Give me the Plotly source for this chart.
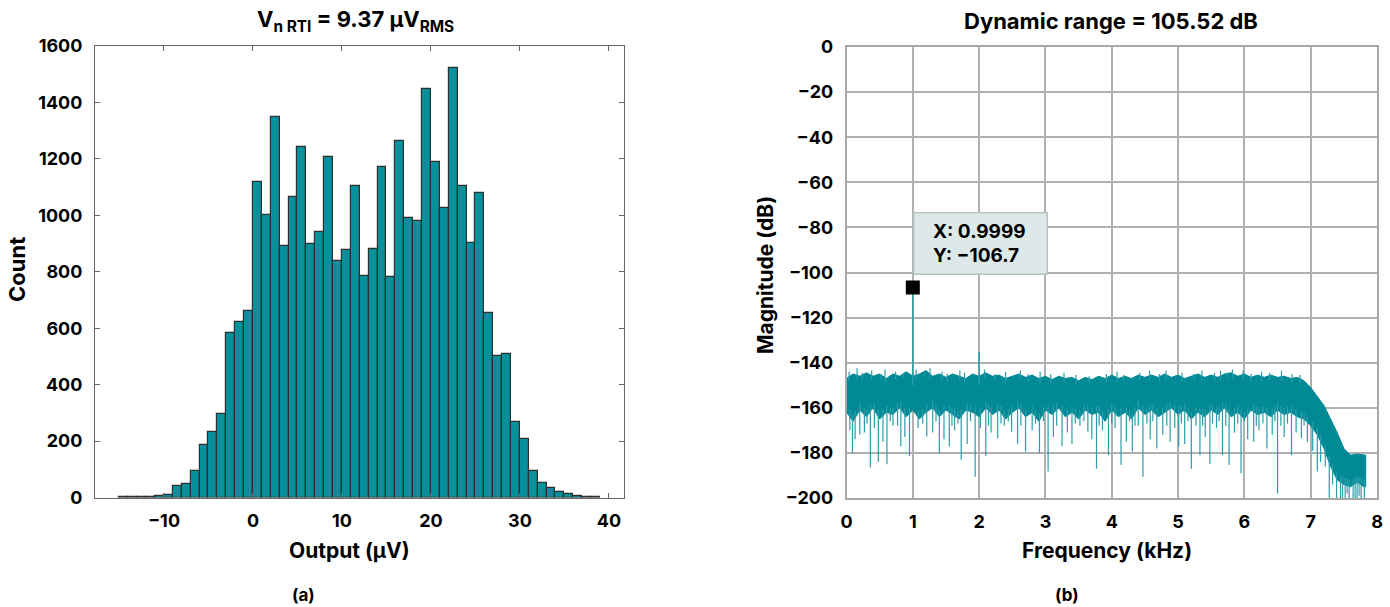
import numpy as np
import plotly.graph_objects as go

# ---------------- Histogram data (bin left edges in µV, counts) ----------------
bin_left = [-15, -14, -13, -12, -11, -10, -9, -8, -7, -6, -5, -4, -3, -2, -1,
            0, 1, 2, 3, 4, 5, 6, 7, 8, 9, 10, 11, 12, 13, 14, 15, 16, 17, 18, 19,
            20, 21, 22, 23, 24, 25, 26, 27, 28, 29, 30, 31, 32, 33, 34, 35, 36, 37, 38]
counts = [1, 1, 1, 1, 4, 8, 40, 48, 93, 185, 233, 295, 584, 622, 660,
          1117, 1002, 1348, 890, 1065, 1242, 899, 940, 1207, 838, 876, 1104, 785, 880, 1171,
          782, 1262, 991, 979, 1448, 1188, 1026, 1522, 1104, 903, 1080, 654, 503, 510, 266,
          207, 93, 53, 34, 18, 11, 5, 2, 3]
bin_width = 1.0

# ---------------- Spectrum data (kHz, dB) ----------------
freq_khz = [0.0, 0.1, 0.2, 0.3, 0.4, 0.5, 0.6, 0.7, 0.8, 0.9,
            1.0, 1.1, 1.2, 1.3, 1.4, 1.5, 1.6, 1.7, 1.8, 1.9,
            2.0, 2.1, 2.2, 2.3, 2.4, 2.5, 2.6, 2.7, 2.8, 2.9,
            3.0, 3.1, 3.2, 3.3, 3.4, 3.5, 3.6, 3.7, 3.8, 3.9,
            4.0, 4.1, 4.2, 4.3, 4.4, 4.5, 4.6, 4.7, 4.8, 4.9,
            5.0, 5.1, 5.2, 5.3, 5.4, 5.5, 5.6, 5.7, 5.8, 5.9,
            6.0, 6.1, 6.2, 6.3, 6.4, 6.5, 6.6, 6.7, 6.8, 6.9,
            7.0, 7.1, 7.2, 7.3, 7.4, 7.5, 7.6, 7.7, 7.8, 7.83]
band_top_db = [-147, -145, -146, -144.5, -146, -145, -147, -145, -146, -144,
               -146, -145, -143.5, -146, -145, -146.5, -145, -146, -147, -145,
               -146, -144.5, -146, -145.5, -147, -146, -145, -146.5, -145.5, -147,
               -146, -147.5, -146, -147, -146.5, -148, -146.5, -147.5, -146, -147,
               -145.5, -147, -146, -147, -145.5, -146.5, -145.5, -146.5, -145, -146.5,
               -145.5, -147, -146, -145, -146.5, -145.5, -146.5, -145, -144.5, -146,
               -145, -146.5, -145.5, -146.5, -145.5, -146.5, -146, -147, -146.5, -148,
               -151, -155, -159, -165, -171, -178, -181, -180.5, -181, -181]
band_bottom_db = [-162, -166, -161, -164, -160, -165, -162, -163, -160, -164,
                  -161, -165, -162, -160, -164, -161, -163, -165, -161, -162,
                  -164, -160, -163, -161, -165, -162, -160, -164, -162, -166,
                  -161, -163, -160, -164, -162, -165, -161, -163, -162, -166,
                  -161, -164, -162, -165, -160, -163, -161, -164, -162, -160,
                  -163, -161, -165, -162, -164, -161, -163, -160, -164, -162,
                  -165, -161, -163, -162, -164, -161, -163, -162, -164, -165,
                  -168, -172, -178, -186, -192, -194, -195, -193, -195, -195]

# downward spikes below the noise band
spike_khz = [0.09, 0.2, 0.36, 0.48, 0.61, 0.82, 0.95, 1.21, 1.4, 1.55, 1.73, 1.94,
             2.1, 2.28, 2.49, 2.7, 2.91, 3.04, 3.25, 3.4, 3.64, 3.77, 3.95, 4.14,
             4.31, 4.47, 4.68, 4.88, 5.01, 5.2, 5.33, 5.48, 5.67, 5.77, 5.95, 6.14,
             6.34, 6.5, 6.71, 6.86, 7.1, 7.28, 7.39, 7.45, 7.52, 7.58, 7.64, 7.7, 7.76, 7.81,
             0.05, 0.13, 0.27, 0.42, 0.55, 0.7, 0.88, 1.08, 1.3, 1.47, 1.63, 1.82,
             2.02, 2.18, 2.38, 2.58, 2.8, 3.12, 3.33, 3.52, 3.7, 3.86, 4.05, 4.22,
             4.4, 4.58, 4.77, 4.95, 5.1, 5.27, 5.41, 5.58, 5.85, 6.05, 6.22, 6.42,
             6.6, 6.78, 6.95, 7.03, 7.15, 7.22, 7.33, 7.48, 7.55, 7.67, 7.73,
             0.31, 0.66, 0.77, 1.15, 1.35, 1.59, 1.68, 1.87, 2.14, 2.33, 2.44, 2.63,
             2.85, 2.97, 3.17, 3.45, 3.58, 3.81, 4.0, 4.27, 4.35, 4.53, 4.62, 4.83,
             5.05, 5.15, 5.37, 5.52, 5.62, 5.72, 5.9, 6.0, 6.18, 6.28, 6.46, 6.55, 6.65, 6.9]
spike_db = [-180, -172, -186.5, -184, -185, -177, -181.5, -172.7, -180, -177, -183, -190.6,
            -181.5, -173.5, -170.6, -179.4, -180, -188.3, -177, -176, -170.6, -187, -181, -185.4,
            -179.4, -190.6, -178, -175, -177.4, -187, -181, -185, -181, -185.4, -189, -175,
            -178, -198, -181, -173.5, -188.3, -200, -200, -200, -200, -200, -200, -200, -200, -200,
            -170, -174, -171, -169, -175, -168, -173, -169, -171, -174, -170, -176,
            -169, -171, -168, -176, -170, -173, -171, -168, -174, -170, -169, -175,
            -168, -174, -172, -169, -176, -168, -173, -169, -171, -174, -170, -172,
            -173, -171, -175, -179, -184, -186, -194, -200, -198, -200, -199,
            -167, -166, -168, -167, -166, -168, -167, -166, -168, -167, -166, -168,
            -167, -166, -168, -167, -166, -168, -167, -166, -168, -167, -166, -168,
            -167, -166, -168, -167, -166, -168, -167, -166, -168, -167, -166, -168, -167, -168]

# small upward hairs above the noise band
hair_khz = [0.04, 0.16, 0.24, 0.38, 0.52, 0.58, 0.74, 0.86, 1.05, 1.18, 1.26,
            1.44, 1.52, 1.71, 1.78, 2.08, 2.24, 2.4, 2.62, 2.74, 2.92,
            3.08, 3.28, 3.46, 3.66, 3.92, 4.08, 4.18, 4.42, 4.57, 4.72,
            4.82, 5.06, 5.24, 5.36, 5.55, 5.64, 5.74, 5.82, 5.98, 6.1, 6.26,
            6.38, 6.56, 6.72, 6.84]
hair_db = [-144, -142.5, -144.5, -143.5, -145, -143, -144, -144.5, -143, -144.5, -142.5,
           -144, -145, -143.5, -144.5, -143, -145, -144, -143.5, -145, -144,
           -145, -144.5, -145.5, -146, -145, -144, -145.5, -144.5, -143.5, -145,
           -143.5, -144.5, -145, -143.5, -144.5, -143.5, -144.5, -143, -143.5, -145, -144,
           -144.5, -143.5, -145, -145.5]

# tones (kHz, dB)
tone_khz = [1.0, 2.0]
tone_db = [-106.7, -135.2]
tip_x, tip_y = 0.9999, -106.7

# ---------------- Styling ----------------
FONT = "Inter"
TEAL = "#008a96"
TEAL_LIGHT = "#2a9da8"
BAR_FILL = "#05909b"

fig = go.Figure()

# Histogram bars
fig.add_trace(go.Bar(
    x=[b + bin_width / 2 for b in bin_left], y=counts, width=bin_width,
    marker=dict(color=BAR_FILL, line=dict(color="#2f2f2f", width=1.2)),
    xaxis="x", yaxis="y", showlegend=False, hoverinfo="skip"))

# Spectrum: noise band as filled polygon
poly_x = freq_khz + freq_khz[::-1]
poly_y = band_top_db + band_bottom_db[::-1]
fig.add_trace(go.Scatter(
    x=poly_x, y=poly_y, fill="toself", fillcolor=TEAL, mode="lines",
    line=dict(color=TEAL, width=1), xaxis="x2", yaxis="y2",
    showlegend=False, hoverinfo="skip"))

# downward spikes (drawn from inside the band down to the spike value)
sx, sy = [], []
for f, d in zip(spike_khz, spike_db):
    start = float(np.interp(f, freq_khz, band_bottom_db)) + 3
    sx += [f, f, None]
    sy += [start, d, None]
fig.add_trace(go.Scatter(x=sx, y=sy, mode="lines", line=dict(color=TEAL_LIGHT, width=1.2),
                         xaxis="x2", yaxis="y2", showlegend=False, hoverinfo="skip"))

# upward hairs
hx, hy = [], []
for f, d in zip(hair_khz, hair_db):
    start = float(np.interp(f, freq_khz, band_top_db)) - 2
    hx += [f, f, None]
    hy += [start, d, None]
fig.add_trace(go.Scatter(x=hx, y=hy, mode="lines", line=dict(color=TEAL_LIGHT, width=1.2),
                         xaxis="x2", yaxis="y2", showlegend=False, hoverinfo="skip"))

# tones
tx, ty = [], []
for f, d in zip(tone_khz, tone_db):
    tx += [f, f, None]
    ty += [-150, d, None]
fig.add_trace(go.Scatter(x=tx, y=ty, mode="lines", line=dict(color=TEAL_LIGHT, width=1.5),
                         xaxis="x2", yaxis="y2", showlegend=False, hoverinfo="skip"))

# data tip marker
fig.add_trace(go.Scatter(x=[tone_khz[0]], y=[tip_y], mode="markers",
                         marker=dict(symbol="square", size=14, color="black"),
                         xaxis="x2", yaxis="y2", showlegend=False, hoverinfo="skip"))

tickfont = dict(family=FONT, size=18, color="black", weight="bold")

fig.update_layout(
    width=1390, height=607,
    margin=dict(l=0, r=0, t=0, b=0, autoexpand=False),
    paper_bgcolor="white", plot_bgcolor="white",
    bargap=0,
    font=dict(family=FONT, color="black"),
    xaxis=dict(domain=[95 / 1390, 624 / 1390], range=[-17.75, 41.7],
               tickvals=[-10, 0, 10, 20, 30, 40], ticks="inside", ticklen=5,
               tickcolor="#666", showline=True, linecolor="#666", linewidth=1,
               mirror="ticks", showgrid=False, zeroline=False, tickfont=tickfont,
               ticklabelstandoff=7, anchor="y", automargin=False),
    yaxis=dict(domain=[(607 - 497.5) / 607, (607 - 46) / 607], range=[0, 1600],
               tickvals=list(range(0, 1601, 200)), ticks="inside", ticklen=5,
               tickcolor="#666", showline=True, linecolor="#666", linewidth=1,
               mirror="ticks", showgrid=False, zeroline=False, tickfont=tickfont,
               ticklabelstandoff=8, anchor="x", automargin=False),
    xaxis2=dict(domain=[846.5 / 1390, 1377 / 1390], range=[0, 8],
                tickvals=list(range(0, 9)), ticks="", showline=True,
                linecolor="#a8a8a8", linewidth=1.5, mirror=True,
                showgrid=True, gridcolor="#b0b0b0", gridwidth=1.5, zeroline=False,
                tickfont=tickfont, ticklabelstandoff=7, anchor="y2", automargin=False),
    yaxis2=dict(domain=[(607 - 498) / 607, (607 - 47) / 607], range=[-200, 0],
                tickvals=list(range(-200, 1, 20)), ticks="", showline=True,
                linecolor="#a8a8a8", linewidth=1.5, mirror=True,
                showgrid=True, gridcolor="#b0b0b0", gridwidth=1.5, zeroline=False,
                tickfont=tickfont, ticklabelstandoff=8, anchor="x2", automargin=False),
)

bold = dict(family=FONT, color="black", weight="bold")
ann = [
    dict(text="V<sub>n RTI</sub> = 9.37 µV<sub>RMS</sub>", x=356 / 1390, y=1 - 21 / 607,
         font=dict(size=22, **bold)),
    dict(text="Dynamic range = 105.52 dB", x=1111 / 1390, y=1 - 21 / 607,
         font=dict(size=22, **bold)),
    dict(text="Output (µV)", x=349 / 1390, y=1 - 550 / 607, font=dict(size=21, **bold)),
    dict(text="Frequency (kHz)", x=1107 / 1390, y=1 - 550 / 607, font=dict(size=21, **bold)),
    dict(text="Count", x=17 / 1390, y=1 - 270 / 607, textangle=-90, font=dict(size=22, **bold)),
    dict(text="Magnitude (dB)", x=765 / 1390, y=1 - 275 / 607, textangle=-90,
         font=dict(size=21, **bold)),
    dict(text="(a)", x=303 / 1390, y=1 - 595 / 607, font=dict(size=17, **bold)),
    dict(text="(b)", x=1067 / 1390, y=1 - 595 / 607, font=dict(size=17, **bold)),
]
for a in ann:
    a.update(xref="paper", yref="paper", showarrow=False, xanchor="center", yanchor="middle")
    fig.add_annotation(**a)

# data tip box
pad = "&nbsp;&nbsp;&nbsp;"
fig.add_annotation(
    x=tone_khz[0], y=tip_y, xref="x2", yref="y2", showarrow=False,
    text=f"{pad}X: {tip_x:.4f}<br>{pad}Y: \u2212{abs(tip_y):.1f}", align="left",
    width=122, height=50, xanchor="left", yanchor="bottom", yshift=13,
    bgcolor="#dde8e8", bordercolor="#b9c3c3", borderwidth=1.5, borderpad=5,
    font=dict(size=19, **bold))

fig.write_html("out.html", config={"displayModeBar": False},
               post_script="document.body.style.margin='0px';")
